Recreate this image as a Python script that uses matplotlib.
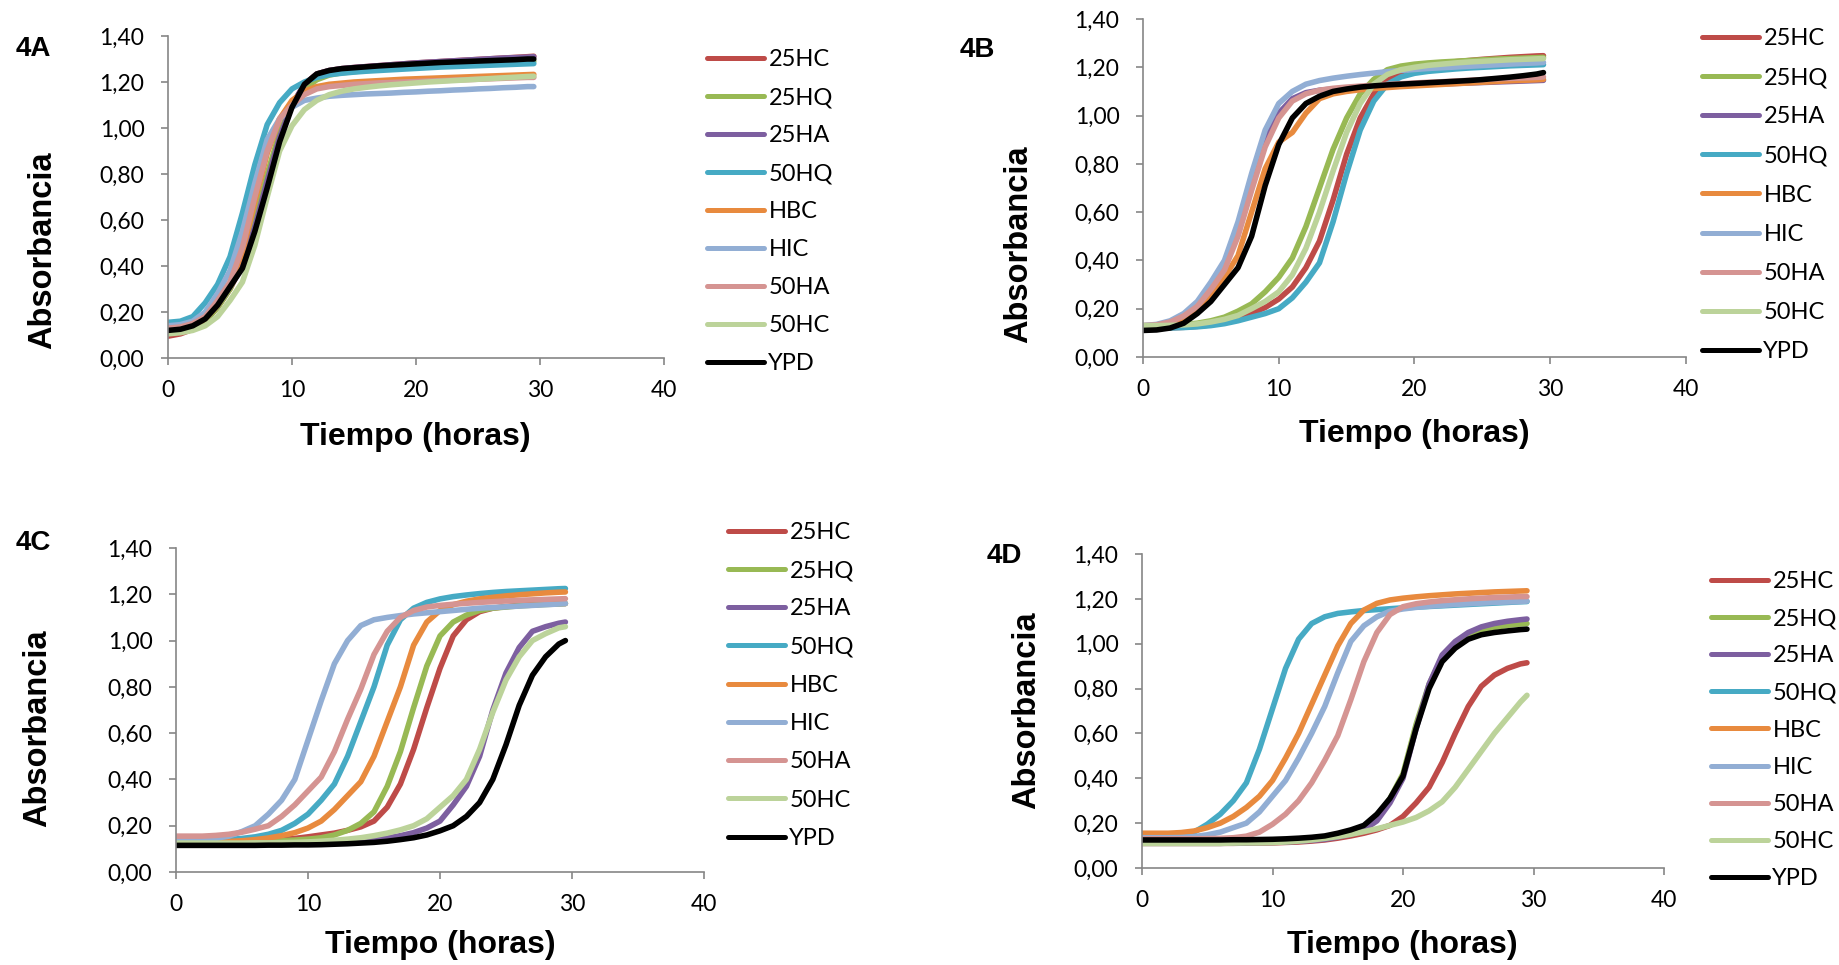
import matplotlib
matplotlib.use("Agg")
import matplotlib.pyplot as plt

# ---------------------------------------------------------------- data
HOURS = [0, 1, 2, 3, 4, 5, 6, 7, 8, 9, 10, 11, 12, 13, 14, 15, 16, 17, 18, 19,
         20, 21, 22, 23, 24, 25, 26, 27, 28, 29, 29.5]

SERIES = ["25HC", "25HQ", "25HA", "50HQ", "HBC", "HIC", "50HA", "50HC", "YPD"]

X_TICKS = [0, 10, 20, 30, 40]
Y_TICKS = [0.0, 0.2, 0.4, 0.6, 0.8, 1.0, 1.2, 1.4]
Y_TICK_LABELS = ["0,00", "0,20", "0,40", "0,60", "0,80", "1,00", "1,20", "1,40"]

# panel 4A
a_25hc = [.095, .105, .125, .16, .22, .30, .41, .58, .78, .97, 1.10, 1.19, 1.235, 1.25, 1.258, 1.263,
          1.267, 1.271, 1.275, 1.279, 1.283, 1.286, 1.289, 1.292, 1.295, 1.298, 1.301, 1.304, 1.307, 1.31, 1.312]
a_25hq = [.11, .115, .13, .16, .22, .30, .42, .60, .80, .98, 1.10, 1.17, 1.21, 1.23, 1.24, 1.245,
          1.25, 1.254, 1.258, 1.262, 1.265, 1.268, 1.271, 1.274, 1.277, 1.28, 1.283, 1.285, 1.287, 1.289, 1.29]
a_25ha = [.12, .125, .14, .17, .23, .31, .40, .57, .77, .96, 1.10, 1.19, 1.235, 1.25, 1.258, 1.263,
          1.267, 1.271, 1.275, 1.279, 1.283, 1.286, 1.289, 1.292, 1.295, 1.298, 1.301, 1.304, 1.306, 1.308, 1.31]
a_50hq = [.155, .16, .18, .24, .32, .44, .63, .84, 1.015, 1.11, 1.17, 1.20, 1.22, 1.232, 1.238, 1.243,
          1.247, 1.25, 1.253, 1.256, 1.259, 1.262, 1.265, 1.267, 1.269, 1.271, 1.273, 1.275, 1.277, 1.279, 1.28]
a_hbc = [.12, .125, .14, .17, .23, .32, .46, .68, .89, 1.04, 1.12, 1.16, 1.18, 1.19, 1.195, 1.20,
         1.203, 1.206, 1.209, 1.212, 1.214, 1.216, 1.218, 1.22, 1.222, 1.224, 1.226, 1.228, 1.23, 1.232, 1.233]
a_hic = [.14, .145, .16, .20, .28, .38, .55, .76, .95, 1.04, 1.09, 1.12, 1.13, 1.138, 1.142, 1.145,
         1.148, 1.15, 1.152, 1.155, 1.157, 1.16, 1.162, 1.165, 1.167, 1.17, 1.172, 1.175, 1.177, 1.18, 1.18]
a_50ha = [.13, .135, .15, .18, .25, .33, .48, .70, .90, 1.04, 1.10, 1.145, 1.17, 1.18, 1.185, 1.19,
          1.193, 1.196, 1.198, 1.20, 1.202, 1.204, 1.206, 1.208, 1.21, 1.212, 1.214, 1.216, 1.218, 1.22, 1.22]
a_50hc = [.105, .11, .12, .14, .18, .25, .33, .49, .70, .90, 1.01, 1.08, 1.12, 1.145, 1.16, 1.17,
          1.177, 1.183, 1.188, 1.192, 1.196, 1.20, 1.203, 1.206, 1.209, 1.212, 1.215, 1.218, 1.221, 1.224, 1.225]
a_ypd = [.12, .125, .14, .17, .23, .31, .39, .55, .74, .94, 1.09, 1.19, 1.235, 1.25, 1.258, 1.262,
         1.266, 1.27, 1.273, 1.276, 1.279, 1.282, 1.285, 1.287, 1.289, 1.291, 1.293, 1.295, 1.297, 1.30, 1.30]

# panel 4B
b_25hc = [.12, .12, .121, .123, .127, .133, .143, .158, .18, .205, .24, .29, .37, .48, .65, .84,
          .99, 1.09, 1.15, 1.18, 1.20, 1.21, 1.217, 1.223, 1.228, 1.233, 1.237, 1.241, 1.244, 1.247, 1.248]
b_25hq = [.13, .13, .132, .135, .14, .15, .165, .19, .22, .27, .33, .41, .54, .70, .86, .99,
          1.09, 1.15, 1.19, 1.205, 1.213, 1.218, 1.222, 1.225, 1.228, 1.231, 1.234, 1.236, 1.238, 1.24, 1.241]
b_25ha = [.12, .125, .14, .165, .21, .28, .37, .52, .72, .90, 1.01, 1.07, 1.095, 1.105, 1.11, 1.114,
          1.117, 1.12, 1.123, 1.125, 1.127, 1.129, 1.131, 1.133, 1.135, 1.137, 1.139, 1.141, 1.143, 1.145, 1.146]
b_50hq = [.12, .12, .12, .122, .125, .13, .138, .15, .165, .18, .20, .245, .31, .39, .56, .76,
          .94, 1.06, 1.13, 1.16, 1.175, 1.183, 1.188, 1.193, 1.197, 1.20, 1.203, 1.206, 1.208, 1.21, 1.211]
b_hbc = [.12, .123, .135, .16, .20, .26, .33, .42, .60, .78, .89, .93, 1.01, 1.07, 1.09, 1.10,
         1.107, 1.112, 1.116, 1.12, 1.123, 1.126, 1.129, 1.132, 1.135, 1.138, 1.141, 1.144, 1.146, 1.148, 1.15]
b_hic = [.13, .135, .15, .18, .23, .31, .40, .56, .76, .94, 1.05, 1.10, 1.13, 1.145, 1.155, 1.163,
         1.17, 1.176, 1.182, 1.187, 1.191, 1.195, 1.198, 1.201, 1.204, 1.207, 1.21, 1.213, 1.216, 1.218, 1.22]
b_50ha = [.13, .133, .145, .17, .21, .28, .36, .50, .69, .87, .99, 1.06, 1.09, 1.105, 1.113, 1.118,
          1.122, 1.126, 1.129, 1.132, 1.135, 1.138, 1.14, 1.143, 1.146, 1.149, 1.152, 1.154, 1.156, 1.158, 1.16]
b_50hc = [.13, .13, .131, .133, .137, .145, .156, .172, .20, .23, .27, .34, .45, .60, .77, .93,
          1.05, 1.13, 1.17, 1.19, 1.20, 1.208, 1.213, 1.218, 1.222, 1.225, 1.228, 1.231, 1.233, 1.235, 1.236]
b_ypd = [.11, .112, .12, .14, .18, .23, .30, .37, .50, .71, .88, .99, 1.05, 1.08, 1.10, 1.11,
         1.118, 1.123, 1.127, 1.13, 1.133, 1.136, 1.139, 1.142, 1.145, 1.149, 1.154, 1.159, 1.165, 1.172, 1.178]

# panel 4C
c_25hc = [.13, .13, .13, .13, .131, .132, .134, .136, .14, .145, .152, .16, .168, .18, .195, .22,
          .28, .38, .53, .71, .88, 1.02, 1.09, 1.125, 1.14, 1.147, 1.152, 1.155, 1.158, 1.16, 1.16]
c_25hq = [.13, .13, .13, .13, .13, .13, .13, .132, .135, .138, .142, .148, .16, .18, .21, .26,
          .37, .52, .71, .89, 1.02, 1.08, 1.11, 1.13, 1.14, 1.145, 1.15, 1.153, 1.156, 1.158, 1.16]
c_25ha = [.12, .12, .12, .12, .12, .12, .12, .121, .122, .123, .124, .126, .128, .131, .135, .14,
          .147, .157, .17, .19, .22, .29, .37, .50, .70, .86, .97, 1.04, 1.06, 1.075, 1.08]
c_50hq = [.135, .135, .135, .137, .14, .145, .152, .163, .18, .21, .25, .31, .38, .50, .65, .80,
          .98, 1.09, 1.14, 1.165, 1.18, 1.19, 1.197, 1.203, 1.208, 1.212, 1.215, 1.218, 1.221, 1.224, 1.225]
c_hbc = [.13, .13, .13, .13, .132, .135, .14, .147, .157, .17, .19, .22, .27, .33, .39, .50,
         .65, .80, .98, 1.08, 1.13, 1.155, 1.17, 1.18, 1.187, 1.193, 1.198, 1.202, 1.206, 1.209, 1.21]
c_hic = [.14, .14, .14, .145, .155, .175, .20, .25, .31, .40, .57, .74, .90, 1.00, 1.065, 1.09,
         1.10, 1.108, 1.115, 1.12, 1.125, 1.13, 1.135, 1.14, 1.143, 1.146, 1.149, 1.152, 1.155, 1.158, 1.16]
c_50ha = [.155, .155, .155, .158, .163, .172, .185, .20, .24, .29, .35, .41, .52, .66, .79, .94,
          1.04, 1.10, 1.13, 1.145, 1.152, 1.157, 1.161, 1.165, 1.168, 1.171, 1.174, 1.176, 1.178, 1.18, 1.181]
c_50hc = [.125, .125, .125, .125, .125, .125, .126, .126, .127, .128, .13, .133, .137, .142, .148, .157,
          .168, .182, .20, .23, .28, .33, .40, .53, .69, .83, .93, 1.0, 1.03, 1.055, 1.06]
c_ypd = [.115, .115, .115, .115, .115, .115, .115, .116, .116, .117, .117, .118, .12, .122, .125, .128,
         .133, .14, .148, .16, .178, .20, .24, .30, .40, .55, .72, .85, .93, .985, 1.0]

# panel 4D
d_25hc = [.11, .11, .11, .11, .11, .11, .11, .11, .111, .111, .112, .114, .116, .12, .125, .133,
          .143, .155, .17, .19, .23, .29, .36, .47, .60, .72, .81, .86, .89, .91, .915]
d_25hq = [.11, .11, .11, .11, .11, .11, .11, .112, .113, .114, .115, .117, .12, .125, .132, .14,
          .155, .18, .23, .31, .42, .64, .82, .94, 1.0, 1.04, 1.06, 1.073, 1.082, 1.088, 1.09]
d_25ha = [.11, .11, .11, .11, .11, .11, .11, .111, .112, .113, .114, .116, .119, .123, .128, .138,
          .15, .17, .21, .29, .40, .62, .82, .95, 1.01, 1.05, 1.075, 1.09, 1.10, 1.107, 1.11]
d_50hq = [.15, .15, .15, .152, .16, .195, .24, .30, .38, .53, .71, .89, 1.02, 1.09, 1.12, 1.135,
          1.142, 1.148, 1.152, 1.156, 1.16, 1.163, 1.166, 1.169, 1.172, 1.175, 1.178, 1.181, 1.184, 1.187, 1.188]
d_hbc = [.155, .155, .155, .158, .165, .18, .20, .23, .27, .32, .39, .49, .60, .73, .86, .99,
         1.09, 1.15, 1.18, 1.195, 1.203, 1.209, 1.214, 1.218, 1.222, 1.225, 1.228, 1.231, 1.233, 1.235, 1.236]
d_hic = [.135, .135, .135, .136, .14, .148, .16, .18, .20, .25, .32, .39, .49, .60, .72, .87,
         1.01, 1.08, 1.12, 1.145, 1.155, 1.162, 1.167, 1.171, 1.175, 1.178, 1.181, 1.184, 1.186, 1.188, 1.19]
d_50ha = [.13, .13, .13, .13, .13, .131, .132, .135, .142, .16, .195, .24, .30, .38, .48, .59,
          .75, .92, 1.05, 1.13, 1.165, 1.178, 1.186, 1.192, 1.196, 1.20, 1.203, 1.206, 1.208, 1.21, 1.21]
d_50hc = [.11, .11, .11, .11, .11, .11, .11, .111, .112, .112, .113, .116, .12, .125, .132, .14,
          .15, .162, .175, .19, .205, .225, .255, .295, .36, .44, .52, .60, .67, .74, .77]
d_ypd = [.125, .125, .125, .125, .125, .125, .125, .126, .126, .127, .128, .13, .133, .137, .143, .155,
         .17, .19, .24, .31, .41, .62, .80, .92, .98, 1.02, 1.04, 1.05, 1.057, 1.063, 1.065]

PANELS = {
    "4A": [a_25hc, a_25hq, a_25ha, a_50hq, a_hbc, a_hic, a_50ha, a_50hc, a_ypd],
    "4B": [b_25hc, b_25hq, b_25ha, b_50hq, b_hbc, b_hic, b_50ha, b_50hc, b_ypd],
    "4C": [c_25hc, c_25hq, c_25ha, c_50hq, c_hbc, c_hic, c_50ha, c_50hc, c_ypd],
    "4D": [d_25hc, d_25hq, d_25ha, d_50hq, d_hbc, d_hic, d_50ha, d_50hc, d_ypd],
}

# ---------------------------------------------------------------- style
COLORS = ["#BE4B48", "#98B954", "#7D5FA0", "#46AAC4", "#E88A3E",
          "#92AED4", "#D59492", "#BCD39A", "#000000"]
AXIS_GRAY = "#868686"
TICK_FONT = "Lato"
LABEL_FONT = "Liberation Sans"

W, H = 1840, 965

# pixel layout: axes box (x at t=0, x at t=40, y at 1.40, y at 0.00),
# legend anchor (x, top, row spacing), panel tag, y label, x label centres
LAYOUT = {
    "4A": dict(box=(168, 664, 36, 358), leg=(707, 49, 0.72), tag=(33, 49),
               ylab=(43, 250), xlab=(415, 437)),
    "4B": dict(box=(1143, 1686, 19, 357), leg=(1702, 28, 0.77), tag=(977, 50),
               ylab=(1019, 244), xlab=(1414, 434)),
    "4C": dict(box=(176, 704, 548, 872), leg=(728, 522, 0.73), tag=(33, 543),
               ylab=(38, 728), xlab=(440, 945)),
    "4D": dict(box=(1142, 1664, 554, 868), leg=(1711, 571, 0.685), tag=(1004, 556),
               ylab=(1027, 710), xlab=(1402, 945)),
}

fig = plt.figure(figsize=(W / 100, H / 100), dpi=100)

for name, series in PANELS.items():
    lay = LAYOUT[name]
    x0, x1, yt, yb = lay["box"]
    ax = fig.add_axes([x0 / W, 1 - yb / H, (x1 - x0) / W, (yb - yt) / H])

    for label, values, color in zip(SERIES, series, COLORS):
        ax.plot(HOURS, values, color=color, lw=4.0, label=label,
                solid_capstyle="round", solid_joinstyle="round")

    ax.set_xlim(0, 40)
    ax.set_ylim(0, 1.4)
    ax.set_xticks(X_TICKS)
    ax.set_yticks(Y_TICKS)
    ax.set_yticklabels(Y_TICK_LABELS)
    for side in ("top", "right"):
        ax.spines[side].set_visible(False)
    for side in ("left", "bottom"):
        ax.spines[side].set_color(AXIS_GRAY)
        ax.spines[side].set_linewidth(1.2)
    ax.tick_params(direction="out", length=5, width=1.2, color=AXIS_GRAY,
                   labelsize=16.5, labelcolor="black")
    ax.tick_params(axis="x", pad=11)
    ax.tick_params(axis="y", pad=12)
    for t in ax.get_xticklabels() + ax.get_yticklabels():
        t.set_fontfamily(TICK_FONT)

    lx, ltop, lspace = lay["leg"]
    leg = ax.legend(loc="upper left", bbox_to_anchor=(lx / W, 1 - ltop / H),
                    bbox_transform=fig.transFigure, frameon=False, borderpad=0,
                    borderaxespad=0, handlelength=2.4, handletextpad=0.2,
                    labelspacing=lspace, prop={"family": TICK_FONT, "size": 17})
    for line in leg.get_lines():
        line.set_linewidth(3.6)

    tx, ty = lay["tag"]
    fig.text(tx / W, 1 - ty / H, name, ha="center", va="center",
             fontsize=20, fontweight="bold", family=LABEL_FONT)
    yx, yy = lay["ylab"]
    fig.text(yx / W, 1 - yy / H, "Absorbancia", rotation=90, ha="center",
             va="center", fontsize=23.5, fontweight="bold", family=LABEL_FONT)
    xx, xy = lay["xlab"]
    fig.text(xx / W, 1 - xy / H, "Tiempo (horas)", ha="center", va="center",
             fontsize=23, fontweight="bold", family=LABEL_FONT)

fig.savefig("out.png", dpi=100)
